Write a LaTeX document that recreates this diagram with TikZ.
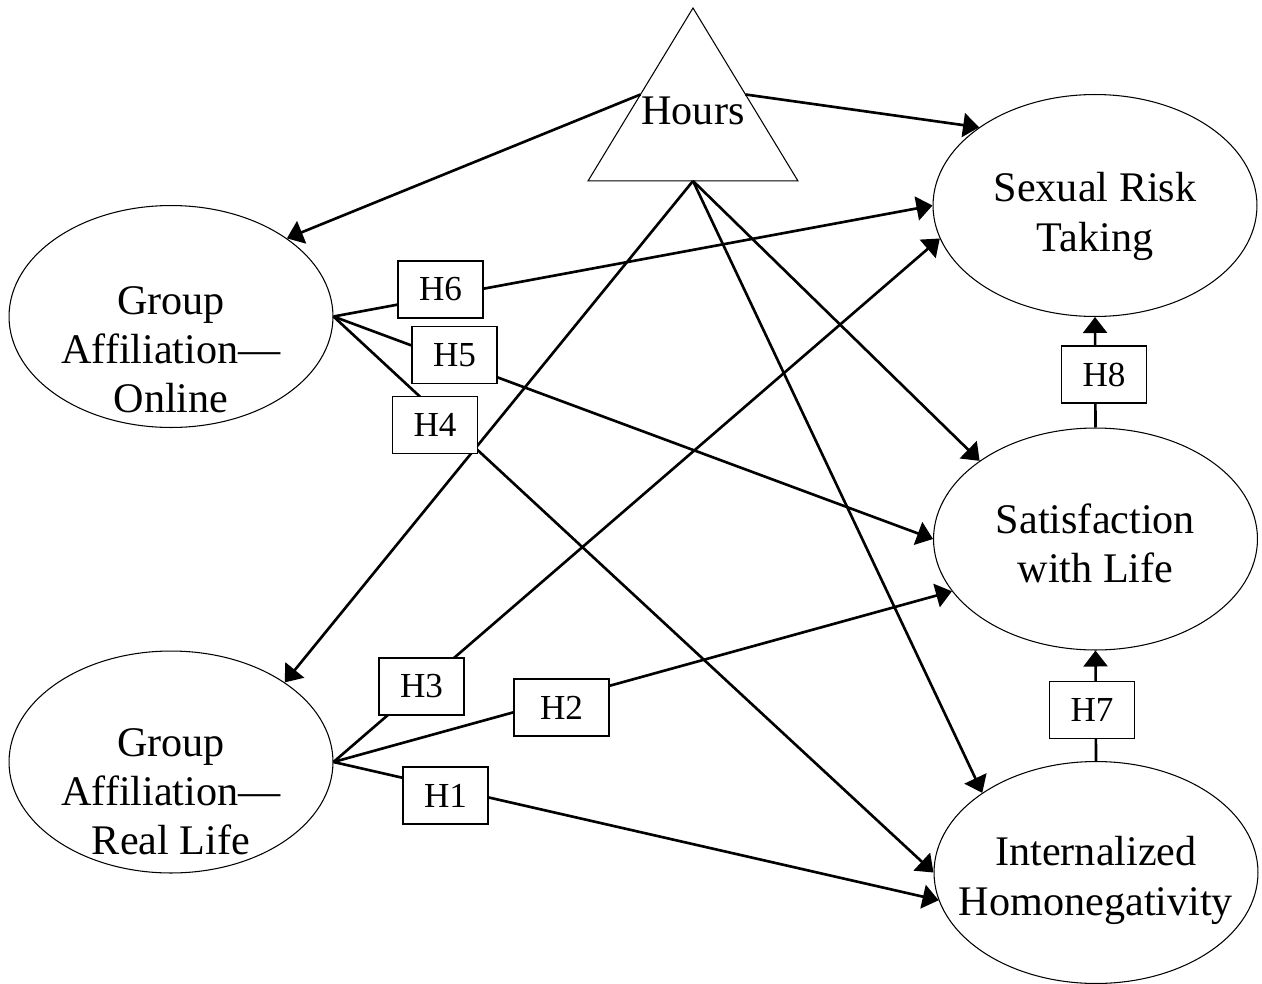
\documentclass[tikz,border=0pt]{standalone}
\usepackage{fontspec}
\setmainfont{Liberation Serif}
\usetikzlibrary{shapes.geometric,arrows.meta}
\tikzset{
  latent/.style={ellipse, draw, line width=0.6pt, minimum width=6.48cm, minimum height=4.44cm, inner sep=0pt},
  varname/.style={font=\fontsize{24}{28}\selectfont, align=center},
  hyp/.style={draw, fill=white, line width=1pt, minimum width=1.7cm, minimum height=1.14cm, inner sep=0pt, font=\fontsize{20}{24}\selectfont},
  link/.style={-{Triangle[length=0.32cm,width=0.48cm]}, line width=1.5pt}
}
\begin{document}
\begin{tikzpicture}[x=0.02cm, y=-0.02cm]
\useasboundingbox (0,0) rectangle (1262,984);
% variables
\node[isosceles triangle, shape border rotate=90, isosceles triangle stretches, draw, line width=0.6pt, minimum width=4.2cm, minimum height=3.46cm, inner sep=0pt, outer sep=0pt, anchor=apex] (hrs) at (693,8) {};
\node[varname] (hrstxt) at (693,111) {Hours};
\node[latent, label={[varname, yshift=-0.66cm]center:Group\\Affiliation---\\Online}] (onl) at (171,316.5) {};
\node[latent, label={[varname, yshift=-0.6cm]center:Group\\Affiliation---\\Real Life}] (real) at (171,762) {};
\node[latent, label={[varname, yshift=-0.22cm]center:Sexual Risk\\Taking}] (sex) at (1095,205.5) {};
\node[latent, label={[varname, yshift=-0.08cm]center:Satisfaction\\with Life}] (sat) at (1095.5,539) {};
\node[latent, label={[varname, yshift=-0.16cm]center:Internalized\\Homonegativity}] (int) at (1096,872.5) {};
% paths
\draw[link] (hrs.left side) -- (onl.34);
\draw[link] (hrs.right side) -- (sex.146);
\draw[link] (hrs.lower side) -- (real.35);
\draw[link] (hrs.lower side) -- (sat.146);
\draw[link] (hrs.lower side) -- (int.145);
\draw[link] (onl.east) -- (sex.180);
\draw[link] (onl.east) -- (sat.180);
\draw[link] (onl.east) -- (int.180);
\draw[link] (real.east) -- (sex.192);
\draw[link] (real.east) -- (sat.200);
\draw[link] (real.east) -- (int.190);
\draw[link] (sat.north) -- (sex.south);
\draw[link] (int.north) -- (sat.south);
% hypotheses
\node[hyp] (h6) at (440.5,289.5) {H6};
\node[hyp] (h5) at (454.5,355) {H5};
\node[hyp] (h4) at (435,425) {H4};
\node[hyp] (h3) at (421.5,686.5) {H3};
\node[hyp, minimum width=1.9cm] (h2) at (561.5,707.5) {H2};
\node[hyp] (h1) at (445.5,795.5) {H1};
\node[hyp] (h8) at (1104,374.5) {H8};
\node[hyp] (h7) at (1092,710) {H7};
\end{tikzpicture}
\end{document}
